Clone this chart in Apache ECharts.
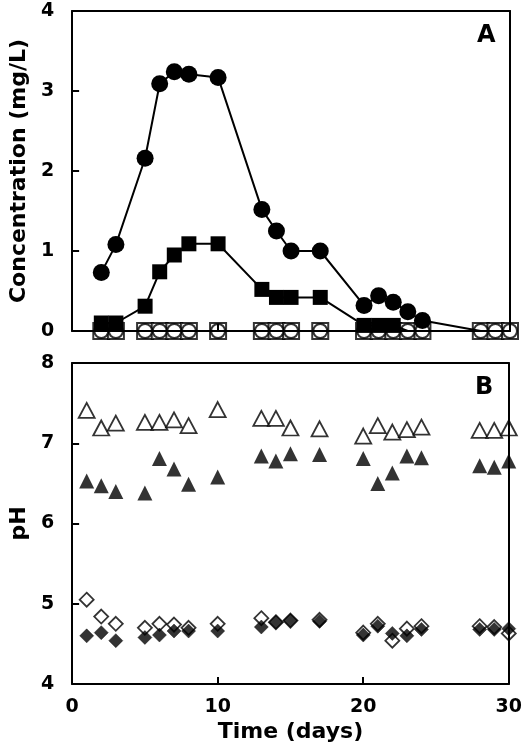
<!DOCTYPE html>
<html>
<head>
<meta charset="utf-8">
<script src="https://cdn.jsdelivr.net/npm/echarts@6/dist/echarts.min.js"></script>
<style>
html,body{margin:0;padding:0;background:#fff;}
#chart{width:525px;height:750px;}
</style>
</head>
<body>
<div id="chart"></div>
<script>
// ---- Panel A data (concentration, mg/L) ----
var daysA = [2, 3, 5, 6, 7, 8, 10, 13, 14, 15, 17, 20, 21, 22, 23, 24, 28, 29, 30];
var concFilledCircle = [0.73, 1.08, 2.16, 3.09, 3.24, 3.21, 3.17, 1.52, 1.25, 1.00, 1.00, 0.32, 0.44, 0.36, 0.24, 0.13, 0, 0, 0];
var concFilledSquare = [0.10, 0.10, 0.31, 0.74, 0.95, 1.09, 1.09, 0.52, 0.42, 0.42, 0.42, 0.07, 0.07, 0.07, 0, 0, 0, 0, 0];
var concOpenSquare   = [0, 0, 0, 0, 0, 0, 0, 0, 0, 0, 0, 0, 0, 0, 0, 0, 0, 0, 0];
var concOpenCircle   = [0, 0, 0, 0, 0, 0, 0, 0, 0, 0, 0, 0, 0, 0, 0, 0, 0, 0, 0];

// ---- Panel B data (pH) ----
var daysB = [1, 2, 3, 5, 6, 7, 8, 10, 13, 14, 15, 17, 20, 21, 22, 23, 24, 28, 29, 30];
var phOpenTriangle   = [7.41, 7.19, 7.25, 7.26, 7.26, 7.29, 7.22, 7.42, 7.31, 7.31, 7.19, 7.18, 7.09, 7.22, 7.14, 7.17, 7.20, 7.16, 7.16, 7.19];
var phFilledTriangle = [6.53, 6.47, 6.40, 6.38, 6.81, 6.68, 6.49, 6.58, 6.84, 6.78, 6.87, 6.86, 6.81, 6.50, 6.63, 6.84, 6.82, 6.72, 6.70, 6.78];
var phOpenDiamond    = [5.05, 4.84, 4.75, 4.70, 4.75, 4.74, 4.70, 4.75, 4.82, 4.77, 4.79, 4.80, 4.64, 4.75, 4.54, 4.69, 4.72, 4.72, 4.71, 4.63];
var phFilledDiamond  = [4.60, 4.64, 4.54, 4.58, 4.61, 4.66, 4.66, 4.66, 4.71, 4.77, 4.79, 4.78, 4.61, 4.72, 4.63, 4.60, 4.68, 4.68, 4.68, 4.69];

// ---- Axis ticks ----
var xTicks = {min: 0, max: 30, interval: 10};
var yTicksA = {min: 0, max: 4, interval: 1};
var yTicksB = {min: 4, max: 8, interval: 1};

function pairs(xs, ys) { return xs.map(function (x, i) { return [x, ys[i]]; }); }

var FONT = 'DejaVu Sans';
var lineCol = '#000';
var frame = {show: true, onZero: false, lineStyle: {color: lineCol, width: 2}};
var tickIn = {show: true, inside: true, length: 7, lineStyle: {color: lineCol, width: 2}};
var labelStyle = {color: '#000', fontFamily: FONT, fontWeight: 'bold', fontSize: 19};

function xAx(grid, showLabels, extra) {
  var o = {
    type: 'value', gridIndex: grid, min: xTicks.min, max: xTicks.max, interval: xTicks.interval,
    axisLine: frame, axisTick: tickIn,
    axisLabel: showLabels ? Object.assign({margin: 14}, labelStyle) : {show: false},
    splitLine: {show: false}, z: 10
  };
  return Object.assign(o, extra || {});
}
function frameAx(grid, pos, rng) {
  return {
    type: 'value', gridIndex: grid, position: pos, min: rng.min, max: rng.max, interval: rng.interval,
    axisLine: frame, axisTick: {show: false}, axisLabel: {show: false}, splitLine: {show: false}, z: 10
  };
}
function yAx(grid, rng, name) {
  return {
    type: 'value', gridIndex: grid, min: rng.min, max: rng.max, interval: rng.interval,
    axisLine: frame, axisTick: tickIn,
    axisLabel: Object.assign({margin: 18}, labelStyle),
    splitLine: {show: false}, z: 10,
    name: name, nameLocation: 'middle', nameGap: 37, nameRotate: 90,
    nameTextStyle: {color: '#000', fontFamily: FONT, fontWeight: 'bold', fontSize: 22}
  };
}

var filledSize = function (v) { return v[1] > 0 ? 17 : 0; };
var filledSqSize = function (v) { return v[1] > 0 ? 15 : 0; };

var option = {
  animation: false,
  backgroundColor: '#fff',
  grid: [
    {left: 63, top: 11, width: 447, height: 320},
    {left: 63, top: 363, width: 447, height: 321}
  ],
  xAxis: [
    xAx(0, false),
    frameAx(0, 'top', xTicks),
    xAx(1, true, {
      name: 'Time (days)', nameLocation: 'middle', nameGap: 37,
      nameTextStyle: {color: '#000', fontFamily: FONT, fontWeight: 'bold', fontSize: 22}
    }),
    frameAx(1, 'top', xTicks)
  ],
  yAxis: [
    yAx(0, yTicksA, 'Concentration (mg/L)'),
    frameAx(0, 'right', yTicksA),
    yAx(1, yTicksB, 'pH'),
    frameAx(1, 'right', yTicksB)
  ],
  graphic: [
    {type: 'text', left: 477, top: 24, z: 20,
     style: {text: 'A', fill: '#000', font: 'bold 24px "DejaVu Sans"'}},
    {type: 'text', left: 475, top: 376, z: 20,
     style: {text: 'B', fill: '#000', font: 'bold 24px "DejaVu Sans"'}}
  ],
  series: [
    // Panel A
    {type: 'scatter', xAxisIndex: 0, yAxisIndex: 0, data: pairs(daysA, concOpenSquare),
     symbol: 'rect', symbolSize: 16, clip: false, z: 2,
     itemStyle: {color: '#fff', borderColor: '#000', borderWidth: 2}},
    {type: 'scatter', xAxisIndex: 0, yAxisIndex: 0, data: pairs(daysA, concOpenCircle),
     symbol: 'circle', symbolSize: 14, clip: false, z: 3,
     itemStyle: {color: '#fff', borderColor: '#000', borderWidth: 2}},
    {type: 'line', xAxisIndex: 0, yAxisIndex: 0, data: pairs(daysA, concFilledSquare),
     symbol: 'rect', symbolSize: filledSqSize, showAllSymbol: true, clip: false, z: 4,
     lineStyle: {color: '#000', width: 2}, itemStyle: {color: '#000'}},
    {type: 'line', xAxisIndex: 0, yAxisIndex: 0, data: pairs(daysA, concFilledCircle),
     symbol: 'circle', symbolSize: filledSize, showAllSymbol: true, clip: false, z: 5,
     lineStyle: {color: '#000', width: 2}, itemStyle: {color: '#000'}},
    // Panel B
    {type: 'scatter', xAxisIndex: 2, yAxisIndex: 2, data: pairs(daysB, phOpenTriangle),
     symbol: 'triangle', symbolSize: [16, 15], clip: false, z: 2,
     itemStyle: {color: '#fff', borderColor: '#000', borderWidth: 1.8}},
    {type: 'scatter', xAxisIndex: 2, yAxisIndex: 2, data: pairs(daysB, phFilledTriangle),
     symbol: 'triangle', symbolSize: [15, 15], clip: false, z: 3,
     itemStyle: {color: '#000'}},
    {type: 'scatter', xAxisIndex: 2, yAxisIndex: 2, data: pairs(daysB, phOpenDiamond),
     symbol: 'diamond', symbolSize: [14, 14], clip: false, z: 4,
     itemStyle: {color: '#fff', borderColor: '#000', borderWidth: 1.8}},
    {type: 'scatter', xAxisIndex: 2, yAxisIndex: 2, data: pairs(daysB, phFilledDiamond),
     symbol: 'diamond', symbolSize: [14, 14], clip: false, z: 5,
     itemStyle: {color: '#000', borderColor: '#000', borderWidth: 0.5}}
  ]
};

var chart = echarts.init(document.getElementById('chart'), null, {renderer: 'canvas'});
chart.setOption(option);
</script>
</body>
</html>
